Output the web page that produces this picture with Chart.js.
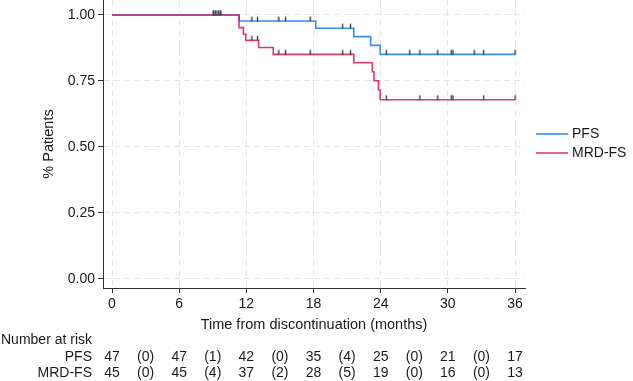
<!DOCTYPE html>
<html>
<head>
<meta charset="utf-8">
<script src="https://cdn.jsdelivr.net/npm/chart.js@4"></script>
<style>
  html, body { margin: 0; padding: 0; background: #fff; }
  #km { display: block; }
</style>
</head>
<body>
<canvas id="km" width="633" height="381"></canvas>
<script>
// survival steps (time in months, proportion)
const pfsTimes = [0, 11.35, 18.2, 21.6, 23.1, 23.95, 36];
const pfsSurv = [1, 0.977, 0.950, 0.918, 0.885, 0.851, 0.851];
const mrdTimes = [0, 11.35, 11.74, 11.95, 13.1, 14.4, 21.6, 23.25, 23.4, 23.8, 23.95, 36];
const mrdSurv = [1, 0.952, 0.927, 0.904, 0.877, 0.851, 0.819, 0.785, 0.751, 0.716, 0.679, 0.679];

// censoring marks
const pfsCensored = [9.05, 9.27, 9.5, 9.71, 12.5, 13.0, 14.9, 15.5, 17.7, 20.6, 21.3, 24.5, 26.6, 27.5, 29.1, 30.3, 30.45, 32.35, 33.2, 36];
const mrdCensored = [9.05, 9.27, 9.5, 9.71, 12.5, 13.0, 14.9, 15.5, 17.7, 20.6, 21.3, 24.5, 27.5, 29.1, 30.3, 30.45, 33.2, 36];

// number at risk table
const riskTimes = [0, 3, 6, 9, 12, 15, 18, 21, 24, 27, 30, 33, 36];
const pfsRisk = ['47', '(0)', '47', '(1)', '42', '(0)', '35', '(4)', '25', '(0)', '21', '(0)', '17'];
const mrdRisk = ['45', '(0)', '45', '(4)', '37', '(2)', '28', '(5)', '19', '(0)', '16', '(0)', '13'];

const xTicks = [0, 6, 12, 18, 24, 30, 36];
const yTicks = [0, 0.25, 0.5, 0.75, 1];

const pfsColor = 'rgb(56, 140, 245)';
const mrdColor = 'rgba(214, 24, 92, 0.85)';
const textColor = '#1a1a1a';
const fontFamily = '"Liberation Sans", Arial, Helvetica, sans-serif';

function steps(times, surv) {
  return times.map((t, i) => ({ x: t, y: surv[i] }));
}

function survivalAt(times, surv, t) {
  let s = surv[0];
  for (let i = 0; i < times.length; i++) {
    if (times[i] <= t) s = surv[i];
  }
  return s;
}

function censorPoints(cens, times, surv) {
  return cens.map(t => ({ x: t, y: survivalAt(times, surv, t) }));
}

// small vertical tick sitting on top of the curve
function censorMark() {
  const c = document.createElement('canvas');
  c.width = 3;
  c.height = 12;
  const g = c.getContext('2d');
  g.fillStyle = '#3c3c3c';
  g.fillRect(0.8, 1.5, 1.4, 4.8);
  return c;
}
const mark = censorMark();

const riskTable = {
  id: 'riskTable',
  afterDraw(chart) {
    const ctx = chart.ctx;
    const xs = chart.scales.x;
    ctx.save();
    ctx.font = '14px ' + fontFamily;
    ctx.fillStyle = textColor;
    ctx.textBaseline = 'middle';
    ctx.textAlign = 'left';
    ctx.fillText('Number at risk', 1, 340);
    ctx.textAlign = 'right';
    ctx.fillText('PFS', 92, 357);
    ctx.fillText('MRD-FS', 92, 373);
    ctx.textAlign = 'center';
    riskTimes.forEach((t, i) => {
      const px = xs.getPixelForValue(t);
      ctx.fillText(pfsRisk[i], px, 357);
      ctx.fillText(mrdRisk[i], px, 373);
    });
    ctx.restore();
  }
};

const sideLegend = {
  id: 'sideLegend',
  afterDraw(chart) {
    const ctx = chart.ctx;
    const items = chart.data.datasets.filter(d => d.type === 'line');
    const rows = { 'PFS': 134, 'MRD-FS': 153 };
    ctx.save();
    ctx.font = '14px ' + fontFamily;
    ctx.textBaseline = 'middle';
    ctx.textAlign = 'left';
    items.forEach(d => {
      const y = rows[d.label];
      ctx.strokeStyle = d.borderColor;
      ctx.lineWidth = 1.6;
      ctx.beginPath();
      ctx.moveTo(536, y);
      ctx.lineTo(568, y);
      ctx.stroke();
      ctx.fillStyle = textColor;
      ctx.fillText(d.label, 572, y);
    });
    ctx.restore();
  }
};

Chart.defaults.font.family = fontFamily;
Chart.defaults.font.size = 14;
Chart.defaults.color = textColor;

new Chart(document.getElementById('km'), {
  data: {
    datasets: [
      {
        type: 'scatter',
        label: 'PFS censored',
        data: censorPoints(pfsCensored, pfsTimes, pfsSurv),
        pointStyle: mark,
        order: 0
      },
      {
        type: 'scatter',
        label: 'MRD-FS censored',
        data: censorPoints(mrdCensored, mrdTimes, mrdSurv),
        pointStyle: mark,
        order: 0
      },
      {
        type: 'line',
        label: 'MRD-FS',
        data: steps(mrdTimes, mrdSurv),
        stepped: 'before',
        borderColor: mrdColor,
        borderWidth: 1.6,
        pointRadius: 0,
        fill: false,
        order: 1
      },
      {
        type: 'line',
        label: 'PFS',
        data: steps(pfsTimes, pfsSurv),
        stepped: 'before',
        borderColor: pfsColor,
        borderWidth: 1.6,
        pointRadius: 0,
        fill: false,
        order: 2
      }
    ]
  },
  options: {
    responsive: false,
    animation: false,
    devicePixelRatio: 1,
    layout: { autoPadding: false, padding: { left: 0, right: 108, top: 0, bottom: 47 } },
    plugins: {
      legend: { display: false },
      tooltip: { enabled: false }
    },
    scales: {
      x: {
        type: 'linear',
        min: -0.804,
        max: 36.89,
        afterBuildTicks: s => { s.ticks = xTicks.map(v => ({ value: v })); },
        afterFit: s => { s.height = 46; s.paddingLeft = 0; s.paddingRight = 0; },
        ticks: { padding: 3, color: textColor, maxRotation: 0 },
        grid: { color: '#e6e6e6', lineWidth: 1, tickLength: 5, tickColor: '#333', tickWidth: 1 },
        border: { color: '#333', width: 1, dash: [6, 4] },
        title: { display: true, text: 'Time from discontinuation (months)', color: textColor, font: { size: 14.5 }, padding: { top: 0, bottom: 0 } }
      },
      y: {
        type: 'linear',
        min: -0.0341,
        max: 1.0568,
        afterBuildTicks: s => { s.ticks = yTicks.map(v => ({ value: v })); },
        afterFit: s => { s.width = 103; s.paddingTop = 0; s.paddingBottom = 0; },
        ticks: { padding: 3, color: textColor, callback: v => v.toFixed(2) },
        grid: { color: '#e6e6e6', lineWidth: 1, tickLength: 5, tickColor: '#333', tickWidth: 1 },
        border: { color: '#333', width: 1, dash: [6, 4] },
        title: { display: true, text: '% Patients', color: textColor, font: { size: 14.5 }, padding: { top: 40, bottom: 0 } }
      }
    }
  },
  plugins: [riskTable, sideLegend]
});
</script>
</body>
</html>
